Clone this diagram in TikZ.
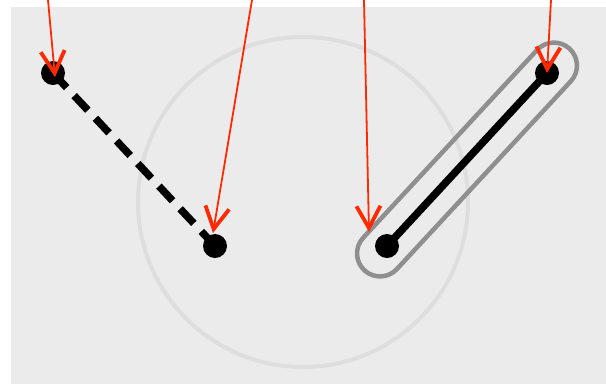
\documentclass[tikz,border=0pt]{standalone}
\usetikzlibrary{arrows.meta,calc}
\definecolor{bgc}{HTML}{EBEBEB}
\definecolor{circc}{HTML}{DEDEDE}
\definecolor{capc}{HTML}{8F8F8F}
\definecolor{redc}{HTML}{FF2A00}
\tikzset{
  pt/.style={circle,fill=black,inner sep=0pt,minimum size=24pt},
  redarrow/.style={draw=redc,line width=1.8pt,-{Straight Barb[length=22pt,width=24pt,line width=3.8pt]}},
  segline/.style={line width=7.5pt,black},
}
\begin{document}
\begin{tikzpicture}[x=1pt,y=-1pt]
\useasboundingbox (0,0) rectangle (606,384);
\fill[bgc] (11,7) rectangle (606,384);
\draw[circc,line width=4pt] (303,202) circle[radius=165];
\node[pt] (a) at (53,73) {};
\node[pt] (b) at (215,246) {};
\node[pt] (c) at (387,246) {};
\node[pt] (d) at (547,73) {};
\draw[segline,dash pattern=on 20pt off 11pt] (a.center) -- (b.center);
\draw[segline] (c.center) -- (d.center);
\node[draw=capc,line width=4.5pt,rectangle,rounded corners=23pt,minimum width=302pt,minimum height=46pt,inner sep=0pt,rotate=47.2] (cap) at ($(c)!0.5!(d)$) {};
\coordinate (s1) at (48,0);
\coordinate (s2) at (252,0);
\coordinate (s3) at (364,0);
\coordinate (s4) at (551,0);
\coordinate (t1) at (55,77);
\coordinate (t2) at (213,233);
\coordinate (t3) at (369,232);
\coordinate (t4) at (547,73);
\draw[redarrow] (s1) -- (t1);
\draw[redarrow] (s2) -- (t2);
\draw[redarrow] (s3) -- (t3);
\draw[redarrow] (s4) -- (t4);
\end{tikzpicture}
\end{document}
